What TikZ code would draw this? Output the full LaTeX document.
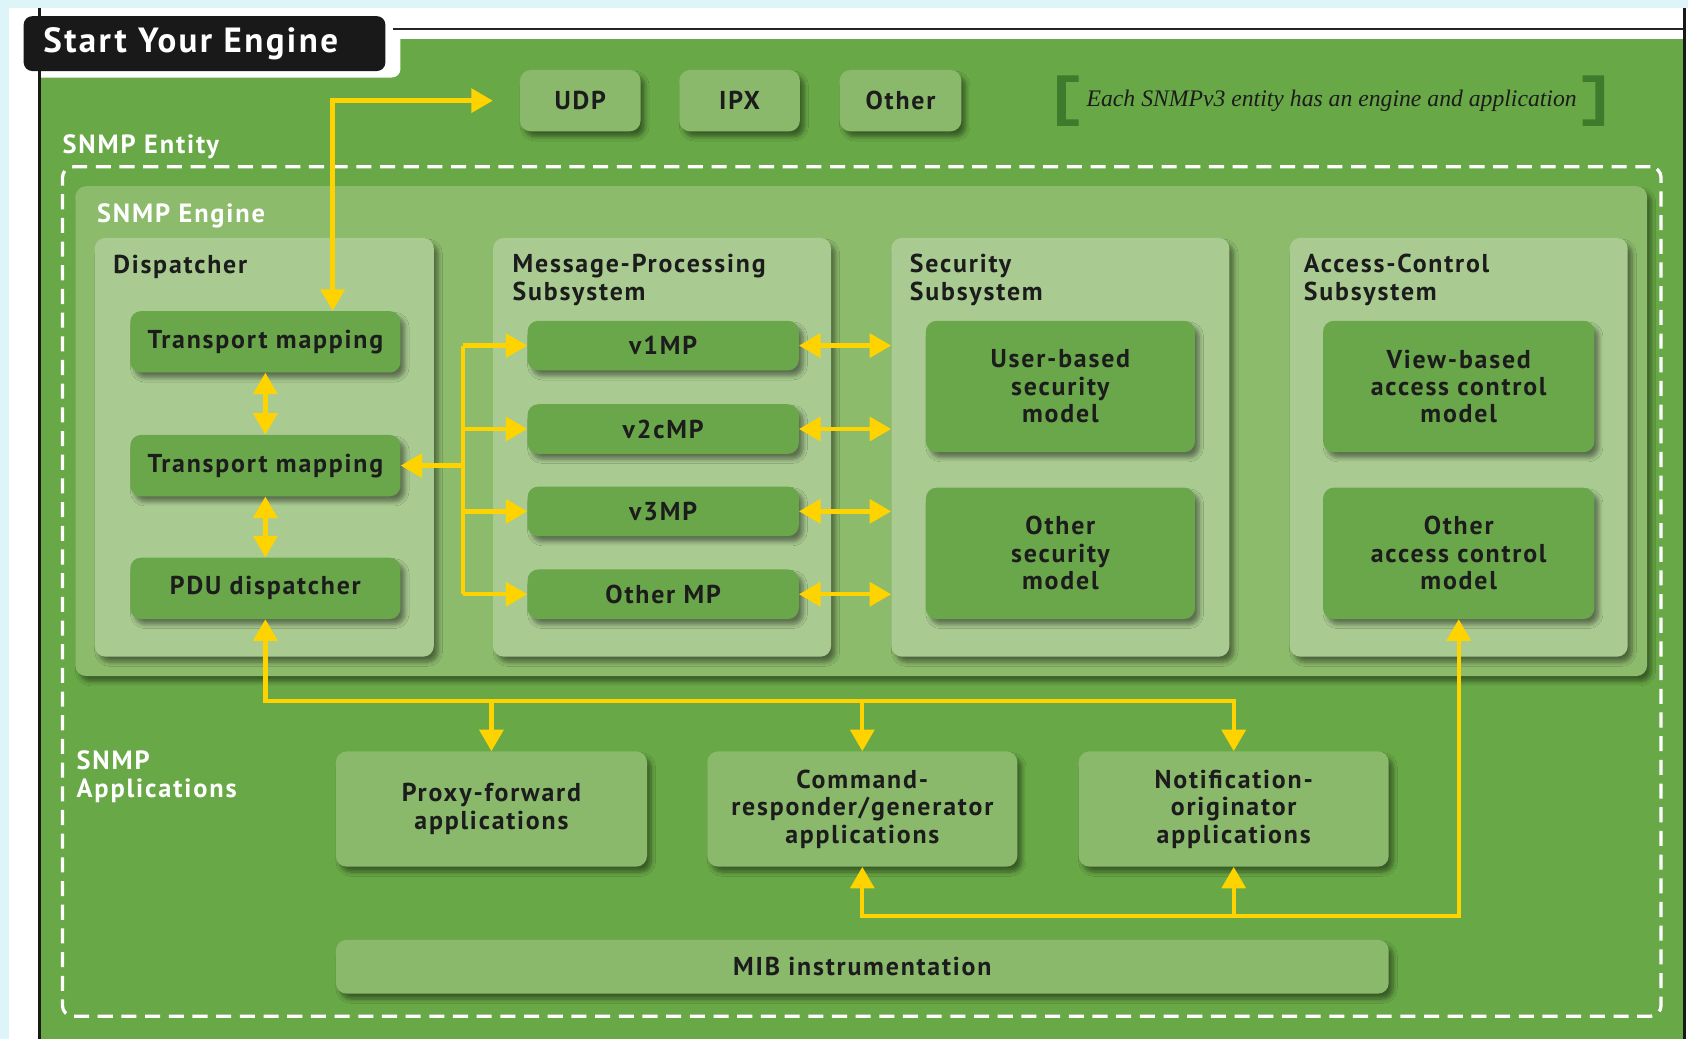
\documentclass[tikz,border=0pt]{standalone}
\usepackage{fontspec}
\setmainfont{PT Sans}[LetterSpace=7]
\newfontfamily\capfont{Liberation Serif}
\usetikzlibrary{arrows.meta,shadows.blur}
\definecolor{bgcyan}{HTML}{DDF4F8}
\definecolor{mgreen}{HTML}{68A846}
\definecolor{engine}{HTML}{8DBB6C}
\definecolor{subsys}{HTML}{A9CB91}
\definecolor{inner}{HTML}{6AA74A}
\definecolor{appbox}{HTML}{8AB96B}
\definecolor{brk}{HTML}{3F7A2D}
\definecolor{yel}{HTML}{FFD300}
\definecolor{txt}{HTML}{1C1C1C}
\tikzset{
  shadowed/.style={blur shadow={shadow xshift=4pt, shadow yshift=-5pt, shadow blur steps=6, shadow opacity=45, shadow blur radius=4pt}},
  lbl/.style={font=\bfseries\fontsize{24}{25.5}\selectfont, text=txt},
  wlbl/.style={font=\bfseries\fontsize{24.5}{26}\selectfont, text=white, align=left, inner sep=0pt},
  cont/.style={fill=subsys, rounded corners=10pt, shadowed, inner sep=0pt},
  inbox/.style={fill=inner, rounded corners=10pt, shadowed, lbl, align=center, inner sep=0pt},
  appb/.style={fill=appbox, rounded corners=10pt, shadowed, lbl, align=center, inner sep=0pt},
  yarr/.style={draw=yel, line width=4pt, >={Triangle[length=20pt,width=22pt]}},
}
\begin{document}
\begin{tikzpicture}[x=1pt,y=-1pt]
\useasboundingbox (0,0) rectangle (1568,965);
% page
\fill[bgcyan] (0,0) rectangle (1568,965);
\fill[white] (8,7) rectangle (1568,965);
\fill[mgreen] (38,36) rectangle (1563,965);
\fill[white, rounded corners=8pt] (20,20) rectangle (372,72);
\draw[black!85, line width=2pt] (365,27) -- (1566,27);
\draw[black!90, line width=3pt] (36.5,7) -- (36.5,965);
\draw[black!90, line width=2.5pt] (1565,7) -- (1565,965);
\node[fill=black!90, rounded corners=8pt, minimum width=336pt, minimum height=51pt, inner sep=0pt] (title) at (190,40.5) {};
\node[anchor=west, font=\bfseries\fontsize{32.5}{36}\selectfont, text=white, inner sep=0pt] (titletxt) at (40,41) {Start Your Engine};
% transports
\node[appb, minimum width=112pt, minimum height=57pt] (udp) at (539,93.5) {UDP};
\node[appb, minimum width=112pt, minimum height=57pt] (ipx) at (687,93.5) {IPX};
\node[appb, minimum width=113pt, minimum height=57pt] (oth) at (836.5,93.5) {Other};
% caption
\fill[brk] (982,70) -- (1002,70) -- (1002,76) -- (990,76) -- (990,111) -- (1002,111) -- (1002,117) -- (982,117) -- cycle;
\fill[brk] (1490,70) -- (1470,70) -- (1470,76) -- (1482,76) -- (1482,111) -- (1470,111) -- (1470,117) -- (1490,117) -- cycle;
\node[font=\capfont\itshape\fontsize{22}{24}\selectfont, text=txt, inner sep=0pt] (cap) at (1237,94) {Each SNMPv3 entity has an engine and application};
% entity
\node[wlbl, anchor=west] (entlbl) at (58,136.5) {SNMP Entity};
\node[draw=white, line width=3pt, dash pattern=on 14pt off 8pt, rounded corners=10pt, minimum width=1485pt, minimum height=789pt, inner sep=0pt] (entity) at (800.5,549.5) {};
% engine
\node[fill=engine, rounded corners=10pt, shadowed, minimum width=1460pt, minimum height=455pt, inner sep=0pt] (engine) at (800,400.5) {};
\node[wlbl, anchor=west] (englbl) at (90,200.5) {SNMP Engine};
% subsystems
\node[cont, minimum width=315pt, minimum height=389pt] (disp) at (245.5,415.5) {};
\node[cont, minimum width=314pt, minimum height=389pt] (mps) at (615,415.5) {};
\node[cont, minimum width=314pt, minimum height=389pt] (sec) at (985,415.5) {};
\node[cont, minimum width=314pt, minimum height=389pt] (acs) at (1355,415.5) {};
\node[lbl, anchor=west, inner sep=0pt] (displbl) at (105,247.5) {Dispatcher};
\node[lbl, anchor=north west, align=left, inner sep=0pt] (mpslbl) at (476,236) {Message-Processing\\Subsystem};
\node[lbl, anchor=north west, align=left, inner sep=0pt] (seclbl) at (845,236) {Security\\Subsystem};
\node[lbl, anchor=north west, align=left, inner sep=0pt] (acslbl) at (1211,236) {Access-Control\\Subsystem};
% inner boxes
\node[inbox, minimum width=251pt, minimum height=57pt] (tm1) at (246.5,317.5) {Transport mapping};
\node[inbox, minimum width=251pt, minimum height=57pt] (tm2) at (246.5,432.5) {Transport mapping};
\node[inbox, minimum width=251pt, minimum height=57pt] (pdu) at (246.5,546.5) {PDU dispatcher};
\node[inbox, minimum width=252pt, minimum height=46pt] (v1) at (616,321) {v1MP};
\node[inbox, minimum width=252pt, minimum height=46pt] (v2) at (616,398.5) {v2cMP};
\node[inbox, minimum width=252pt, minimum height=46pt] (v3) at (616,475) {v3MP};
\node[inbox, minimum width=252pt, minimum height=46pt] (om) at (616,552) {Other MP};
\node[inbox, minimum width=250pt, minimum height=122pt] (ubs) at (985,359) {User-based\\security\\model};
\node[inbox, minimum width=250pt, minimum height=122pt] (osm) at (985,514) {Other\\security\\model};
\node[inbox, minimum width=252pt, minimum height=122pt] (vac) at (1355,359) {View-based\\access control\\model};
\node[inbox, minimum width=252pt, minimum height=122pt] (oac) at (1355,514) {Other\\access control\\model};
% applications
\node[wlbl, anchor=north west] (applbl) at (71,697) {SNMP\\Applications};
\node[appb, minimum width=289pt, minimum height=107pt] (pxa) at (456.5,751.5) {Proxy-forward\\applications};
\node[appb, minimum width=288pt, minimum height=107pt] (cra) at (801,751.5) {Command-\\responder/generator\\applications};
\node[appb, minimum width=288pt, minimum height=107pt] (nap) at (1146,751.5) {Notification-\\originator\\applications};
\node[appb, minimum width=978pt, minimum height=50pt] (mib) at (801,898) {MIB instrumentation};
% connectors
\coordinate (upx) at (309,93);
\coordinate (udpend) at ([xshift=-25pt]udp.west);
\draw[yarr,<->] (tm1.north -| upx) |- (udpend);
\draw[yarr,<->] (tm1) -- (tm2);
\draw[yarr,<->] (tm2) -- (pdu);
\coordinate (trunk) at (430,0);
\draw[yarr] (trunk |- v1.west) -- (trunk |- om.west);
\draw[yarr,->] (trunk |- tm2.east) -- (tm2.east);
\foreach \n in {v1,v2,v3,om} {
  \draw[yarr,->] (trunk |- \n.west) -- (\n.west);
  \draw[yarr,<->] (\n.east) -- (\n.east -| sec.west);
}
\coordinate (bus) at (0,651);
\draw[yarr,<->] (pdu.south) |- (nap.north |- bus) -- (nap.north);
\draw[yarr,->] (pxa.north |- bus) -- (pxa.north);
\draw[yarr,->] (cra.north |- bus) -- (cra.north);
\coordinate (lbus) at (0,851);
\draw[yarr,<->] (cra.south) |- (oac.south |- lbus) -- (oac.south);
\draw[yarr,->] (nap.south |- lbus) -- (nap.south);
\end{tikzpicture}
\end{document}
